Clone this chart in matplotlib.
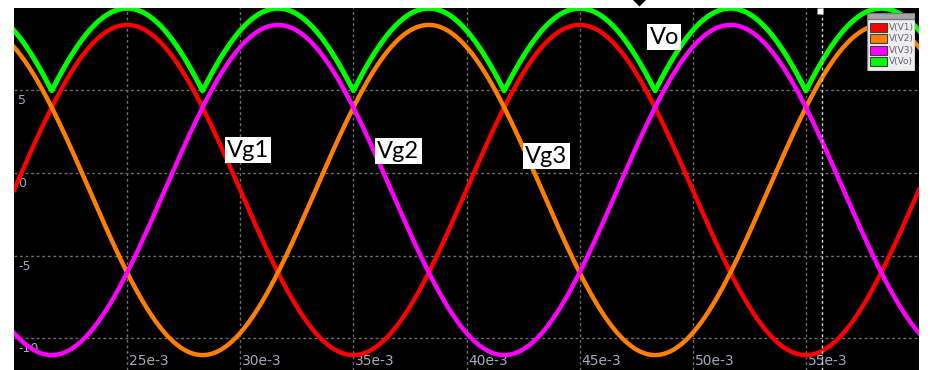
import numpy as np
import matplotlib.pyplot as plt
from matplotlib.patches import Rectangle
from matplotlib.transforms import blended_transform_factory, offset_copy

# waveform parameters (three 50 Hz phases + rectified output)
names = ['V(V1)', 'V(V2)', 'V(V3)', 'V(Vo)']
colors = ['#ff0000', '#ff8000', '#ff00ff', '#00ff00']
phases_deg = [0, 120, -120]
amplitude = 9.95
offset = -1.05
freq = 50.0
vo_shift = 1.0  # Vo rides ~1 V above the highest phase

x_ticks = [0.025, 0.030, 0.035, 0.040, 0.045, 0.050, 0.055]
x_tick_labels = ['25e-3', '30e-3', '35e-3', '40e-3', '45e-3', '50e-3', '55e-3']
y_ticks = [5, 0, -5, -10]
y_tick_labels = ['5', '0', '-5', '-10']

labels = ['Vo', 'Vg1', 'Vg2', 'Vg3']
label_x = [0.04874, 0.03034, 0.03698, 0.04352]
label_y = [8.16, 1.36, 1.30, 0.99]

cursor_t = 0.05572
marker_t = 0.04763

t = np.linspace(0.020, 0.060, 4000)
phases = [amplitude * np.sin(2 * np.pi * freq * t + np.deg2rad(p)) + offset for p in phases_deg]
vo = np.max(phases, axis=0) + vo_shift
series = phases + [vo]

fig = plt.figure(figsize=(9.3, 3.7), dpi=100)
fig.patch.set_facecolor('white')
ax = fig.add_axes([14 / 930, 0, 905 / 930, 362 / 370])
ax.set_facecolor('black')
ax.set_xlim(0.020, 0.060)
ax.set_ylim(-11.9, 9.92)
for s in ax.spines.values():
    s.set_visible(False)
ax.set_xticks([])
ax.set_yticks([])

# dotted grid
grid_kw = dict(color='#6e6e6e', lw=1, ls=(0, (2, 2)), zorder=1)
for xt in x_ticks:
    ax.axvline(xt, **grid_kw)
for yt in y_ticks:
    ax.axhline(yt, **grid_kw)

# tick labels drawn inside the plot
tick_font = ['Liberation Sans Narrow', 'DejaVu Sans']
ytrans = offset_copy(blended_transform_factory(ax.transAxes, ax.transData), fig=fig, x=4, y=-4, units='dots')
for yt, lab in zip(y_ticks, y_tick_labels):
    ax.text(0, yt, lab, transform=ytrans, ha='left', va='top', fontsize=9,
            color='#a4aabb', family=tick_font, zorder=2)
xtrans = offset_copy(blended_transform_factory(ax.transData, ax.transAxes), fig=fig, x=2, y=2, units='dots')
for xt, lab in zip(x_ticks, x_tick_labels):
    ax.text(xt, 0, lab, transform=xtrans, ha='left', va='bottom', fontsize=10,
            color='#a4aabb', family=tick_font, zorder=2)

# waveforms
for v, c, n in zip(series, colors, names):
    lw = 3.6 if n == 'V(Vo)' else 3.2
    ax.plot(t, v, color=c, lw=lw, zorder=3)

# cursor
ax.axvline(cursor_t, color='#d8d8d8', lw=1, ls=(0, (2, 2)), zorder=4)
ctrans = offset_copy(blended_transform_factory(ax.transData, ax.transAxes), fig=fig, x=-2, y=-3, units='dots')
ax.plot([cursor_t], [1], transform=ctrans, marker='s', ms=4.3, color='white', mec='none', clip_on=False, zorder=5)
mtrans = offset_copy(blended_transform_factory(ax.transData, ax.transAxes), fig=fig, x=0, y=9, units='dots')
ax.plot([marker_t], [1], transform=mtrans, marker='D', ms=7, color='black', mec='none', clip_on=False, zorder=5)

# annotation boxes
for lab, x, y in zip(labels, label_x, label_y):
    ax.text(x, y, lab, fontsize=17, family=['Lato', 'DejaVu Sans'], ha='center', va='center',
            color='black', zorder=6,
            bbox=dict(facecolor='white', edgecolor='none', boxstyle='square,pad=0.1'))

# legend box (top right)
lax = fig.add_axes([867 / 930, 1 - 71 / 370, 48 / 930, 58 / 370])
lax.set_xlim(0, 48)
lax.set_ylim(58, 0)
lax.axis('off')
lax.add_patch(Rectangle((0, 0), 48, 58, facecolor='#eeeeee', edgecolor='#7a7a7a', lw=1))
lax.add_patch(Rectangle((0, 0), 48, 6, facecolor='#a6a6a6', edgecolor='#7a7a7a', lw=1))
for i, (c, n) in enumerate(zip(colors, names)):
    yc = 14 + i * 11.6
    lax.add_patch(Rectangle((3, yc - 4.5), 17, 9, facecolor=c, edgecolor='#404040', lw=0.8))
    lax.text(22, yc, n, fontsize=6.5, color='#606070', va='center', ha='left', family=tick_font)

fig.savefig('out.png', dpi=100, facecolor='white')
